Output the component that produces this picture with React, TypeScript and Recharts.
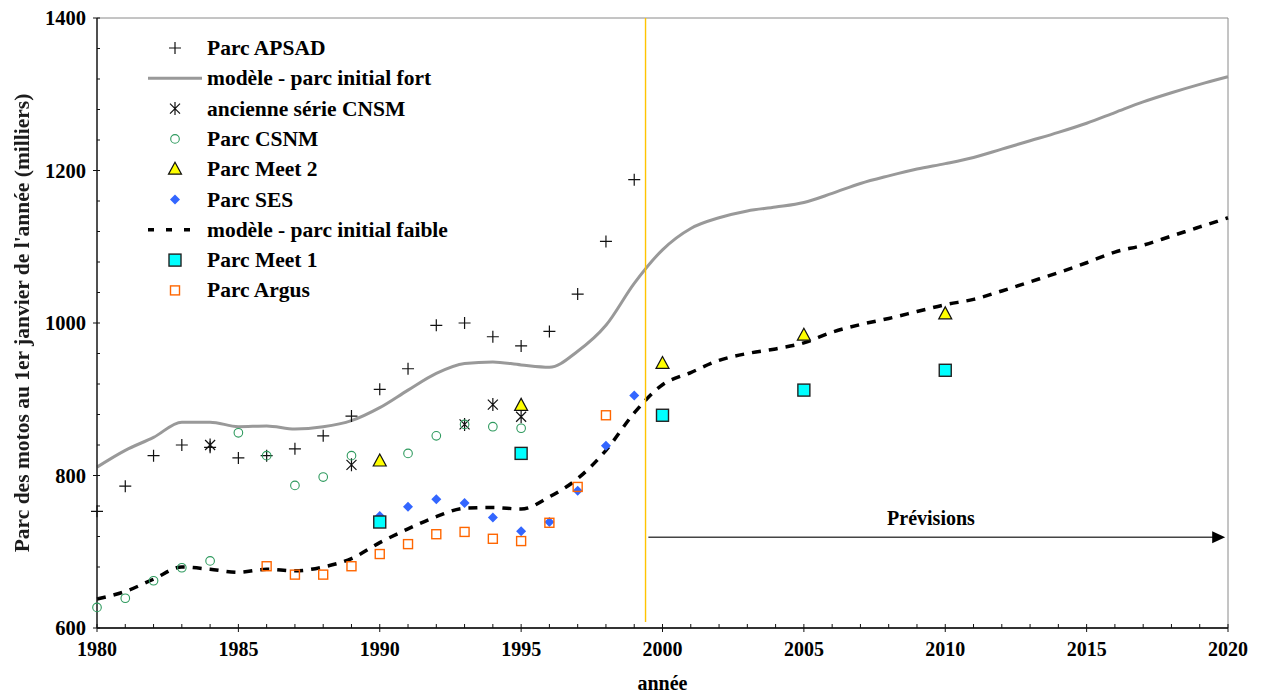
import React from 'react';
import {
  ComposedChart,
  Line,
  Scatter,
  XAxis,
  YAxis,
  ReferenceLine,
  ReferenceArea,
  Legend,
} from 'recharts';

const FONT = '"Liberation Serif", "Times New Roman", serif';

// ---- data (milliers de motos au 1er janvier) ----
const apsadYears = [1980, 1981, 1982, 1983, 1984, 1985, 1986, 1987, 1988, 1989, 1990, 1991, 1992, 1993, 1994, 1995, 1996, 1997, 1998, 1999];
const apsadValues = [753, 786, 826, 840, 837, 823, 826, 835, 852, 878, 913, 940, 997, 1000, 982, 970, 989, 1038, 1107, 1188];

const modelYears = [
  1980, 1981, 1982, 1983, 1984, 1985, 1986, 1987, 1988, 1989,
  1990, 1991, 1992, 1993, 1994, 1995, 1996, 1997, 1998, 1999,
  2000, 2001, 2002, 2003, 2004, 2005, 2006, 2007, 2008, 2009,
  2010, 2011, 2012, 2013, 2014, 2015, 2016, 2017, 2018, 2019, 2020,
];
const strongModelValues = [
  811, 833, 850, 870, 870, 864, 865, 861, 864, 872,
  889, 912, 934, 947, 949, 945, 942, 963, 997, 1052,
  1096, 1124, 1138, 1147, 1152, 1158, 1170, 1183, 1193, 1202,
  1209, 1217, 1228, 1239, 1250, 1262, 1276, 1290, 1302, 1313, 1323,
];
const weakModelValues = [
  638, 648, 664, 680, 677, 673, 677, 675, 680, 691,
  712, 730, 746, 757, 758, 756, 772, 796, 833, 882,
  919, 935, 951, 960, 966, 974, 988, 998, 1006, 1015,
  1024, 1031, 1042, 1054, 1066, 1079, 1093, 1102, 1114, 1126, 1138,
];

const oldCnsmYears = [1984, 1989, 1993, 1994, 1995];
const oldCnsmValues = [840, 814, 867, 893, 877];

const csnmYears = [1980, 1981, 1982, 1983, 1984, 1985, 1986, 1987, 1988, 1989, 1991, 1992, 1993, 1994, 1995];
const csnmValues = [627, 639, 662, 679, 688, 856, 826, 787, 798, 826, 829, 852, 867, 864, 862];

const meet2Years = [1990, 1995, 2000, 2005, 2010];
const meet2Values = [819, 892, 947, 984, 1012];

const sesYears = [1990, 1991, 1992, 1993, 1994, 1995, 1996, 1997, 1998, 1999];
const sesValues = [747, 759, 769, 764, 745, 727, 739, 780, 839, 905];

const meet1Years = [1990, 1995, 2000, 2005, 2010];
const meet1Values = [739, 829, 879, 912, 938];

const argusYears = [1986, 1987, 1988, 1989, 1990, 1991, 1992, 1993, 1994, 1995, 1996, 1997, 1998];
const argusValues = [681, 670, 670, 681, 697, 710, 723, 726, 717, 714, 738, 785, 879];

const xTicks = [
  1980, 1981, 1982, 1983, 1984, 1985, 1986, 1987, 1988, 1989,
  1990, 1991, 1992, 1993, 1994, 1995, 1996, 1997, 1998, 1999,
  2000, 2001, 2002, 2003, 2004, 2005, 2006, 2007, 2008, 2009,
  2010, 2011, 2012, 2013, 2014, 2015, 2016, 2017, 2018, 2019, 2020,
];
const yTicks = [600, 640, 680, 720, 760, 800, 840, 880, 920, 960, 1000, 1040, 1080, 1120, 1160, 1200, 1240, 1280, 1320, 1360, 1400];

const forecastStart = 1999.4;
const arrowFrom = 1999.5;
const arrowTo = 2019.9;
const arrowLevel = 719;

const pairs = (years: number[], values: number[]) => years.map((year, i) => ({ year, value: values[i] }));

const apsadData = pairs(apsadYears, apsadValues);
const strongData = pairs(modelYears, strongModelValues);
const weakData = pairs(modelYears, weakModelValues);
const oldCnsmData = pairs(oldCnsmYears, oldCnsmValues);
const csnmData = pairs(csnmYears, csnmValues);
const meet2Data = pairs(meet2Years, meet2Values);
const sesData = pairs(sesYears, sesValues);
const meet1Data = pairs(meet1Years, meet1Values);
const argusData = pairs(argusYears, argusValues);

type Kind = 'plus' | 'asterisk' | 'circle' | 'triangle' | 'diamond' | 'cyanSquare' | 'hollowSquare' | 'greyLine' | 'dashLine';

const GREY = '#999999';

function marker(kind: Kind, cx: number, cy: number) {
  switch (kind) {
    case 'plus':
      return <path d={`M${cx - 6},${cy}H${cx + 6}M${cx},${cy - 6}V${cy + 6}`} stroke="#111" strokeWidth={1.2} fill="none" />;
    case 'asterisk':
      return (
        <path
          d={`M${cx - 5},${cy - 5}L${cx + 5},${cy + 5}M${cx - 5},${cy + 5}L${cx + 5},${cy - 5}M${cx},${cy - 6.5}V${cy + 6.5}`}
          stroke="#111"
          strokeWidth={1.2}
          fill="none"
        />
      );
    case 'circle':
      return <circle cx={cx} cy={cy} r={4.3} stroke="#2E9A5E" strokeWidth={1.1} fill="none" />;
    case 'triangle':
      return (
        <polygon
          points={`${cx},${cy - 7} ${cx + 6.5},${cy + 5} ${cx - 6.5},${cy + 5}`}
          fill="#FFFF00"
          stroke="#111"
          strokeWidth={1.2}
          strokeLinejoin="miter"
        />
      );
    case 'diamond':
      return <polygon points={`${cx},${cy - 5} ${cx + 5},${cy} ${cx},${cy + 5} ${cx - 5},${cy}`} fill="#3366FF" />;
    case 'cyanSquare':
      return <rect x={cx - 6} y={cy - 6} width={12} height={12} fill="#00FFFF" stroke="#222" strokeWidth={1.4} />;
    case 'hollowSquare':
      return <rect x={cx - 4.5} y={cy - 4.5} width={9} height={9} fill="none" stroke="#FF6600" strokeWidth={1.4} />;
    case 'greyLine':
      return <line x1={cx - 27} x2={cx + 27} y1={cy} y2={cy} stroke={GREY} strokeWidth={3} />;
    case 'dashLine':
      return <line x1={cx - 27} x2={cx + 22} y1={cy} y2={cy} stroke="#000" strokeWidth={3.5} strokeDasharray="6 12" />;
    default:
      return null;
  }
}

const legendItems: { label: string; kind: Kind }[] = [
  { label: 'Parc APSAD', kind: 'plus' },
  { label: 'modèle - parc initial fort', kind: 'greyLine' },
  { label: 'ancienne série CNSM', kind: 'asterisk' },
  { label: 'Parc CSNM', kind: 'circle' },
  { label: 'Parc Meet 2', kind: 'triangle' },
  { label: 'Parc SES', kind: 'diamond' },
  { label: 'modèle - parc initial faible', kind: 'dashLine' },
  { label: 'Parc Meet 1', kind: 'cyanSquare' },
  { label: 'Parc Argus', kind: 'hollowSquare' },
];

const LegendBox = () => (
  <svg width={340} height={280} style={{ display: 'block' }}>
    {legendItems.map((item, i) => {
      const cy = 18 + i * 30.3;
      return (
        <g key={item.label}>
          {marker(item.kind, 35, cy)}
          <text x={67} y={cy + 7} fontFamily={FONT} fontWeight="bold" fontSize={21.5} fill="#000">
            {item.label}
          </text>
        </g>
      );
    })}
  </svg>
);

const XTick = (props: any) => {
  const { x, y, payload } = props;
  const v = payload.value as number;
  const major = v % 5 === 0;
  return (
    <g>
      <line x1={x} x2={x} y1={y - 4} y2={major ? y + 4 : y} stroke="#111" strokeWidth={1} />
      {major && (
        <text x={x} y={y + 28} textAnchor="middle" fontFamily={FONT} fontWeight="bold" fontSize={20} fill="#000">
          {v}
        </text>
      )}
    </g>
  );
};

const YTick = (props: any) => {
  const { x, y, payload } = props;
  const v = payload.value as number;
  const major = v % 200 === 0;
  return (
    <g>
      <line x1={major ? x - 4 : x} x2={x + 3} y1={y} y2={y} stroke="#111" strokeWidth={1} />
      {major && (
        <text x={x - 11} y={y + 7} textAnchor="end" fontFamily={FONT} fontWeight="bold" fontSize={20.5} fill="#000">
          {v}
        </text>
      )}
    </g>
  );
};

const YTitle = (p: any) => {
  const vb = p.viewBox || { x: 0, y: 18, width: 97, height: 610 };
  const cx = vb.x + 22;
  const cy = vb.y + vb.height / 2;
  return (
    <g>
      <defs>
        <filter id="soft" x="-10%" y="-10%" width="120%" height="120%">
          <feGaussianBlur stdDeviation={0.6} />
        </filter>
      </defs>
      <text
        x={cx}
        y={cy}
        transform={`rotate(-90 ${cx} ${cy})`}
        textAnchor="middle"
        dominantBaseline="central"
        fontFamily={FONT}
        fontWeight="bold"
        fontSize={21.5}
        fill="#1a1a1a"
        filter="url(#soft)"
      >
        Parc des motos au 1er janvier de l'année (milliers)
      </text>
    </g>
  );
};

const XTitle = (p: any) => {
  const vb = p.viewBox || { x: 97, y: 628, width: 1131, height: 67 };
  return (
    <text x={vb.x + vb.width / 2} y={vb.y + 62} textAnchor="middle" fontFamily={FONT} fontWeight="bold" fontSize={20} fill="#000">
      année
    </text>
  );
};

const ForecastArrow = (p: any) => {
  const { x1, y1, x2 } = p;
  const tip = x2;
  return (
    <g>
      <line x1={x1} x2={tip - 12} y1={y1} y2={y1} stroke="#444" strokeWidth={1.6} />
      <polygon points={`${tip},${y1} ${tip - 13},${y1 - 6} ${tip - 13},${y1 + 6}`} fill="#000" />
      <text
        x={x1 + (tip - x1) * 0.49}
        y={y1 - 12}
        textAnchor="middle"
        fontFamily={FONT}
        fontWeight="bold"
        fontSize={20}
        fill="#000"
      >
        Prévisions
      </text>
    </g>
  );
};

export default function App() {
  return (
    <div style={{ position: 'absolute', left: 0, top: 0, background: '#fff' }}>
      <ComposedChart width={1266} height={695} margin={{ top: 18, right: 38, bottom: 0, left: 0 }}>
        <ReferenceArea x1={1980} x2={2020} y1={600} y2={1400} fill="none" stroke="#8a8a8a" strokeWidth={1} />
        <XAxis
          type="number"
          dataKey="year"
          domain={[1980, 2020]}
          ticks={xTicks}
          interval={0}
          tickSize={0}
          tickMargin={0}
          tickLine={false}
          tick={<XTick />}
          axisLine={{ stroke: '#333', strokeWidth: 2 }}
          height={67}
          label={XTitle}
        />
        <YAxis
          type="number"
          dataKey="value"
          domain={[600, 1400]}
          ticks={yTicks}
          interval={0}
          tickSize={0}
          tickMargin={0}
          tickLine={false}
          tick={<YTick />}
          axisLine={{ stroke: '#111', strokeWidth: 1.3 }}
          width={97}
          label={YTitle}
        />
        <Scatter data={apsadData} isAnimationActive={false} shape={(s: any) => marker('plus', s.cx, s.cy)} />
        <Line
          data={strongData}
          dataKey="value"
          type="monotone"
          stroke={GREY}
          strokeWidth={3}
          dot={false}
          activeDot={false}
          isAnimationActive={false}
        />
        <Scatter data={oldCnsmData} isAnimationActive={false} shape={(s: any) => marker('asterisk', s.cx, s.cy)} />
        <Scatter data={csnmData} isAnimationActive={false} shape={(s: any) => marker('circle', s.cx, s.cy)} />
        <Scatter data={meet2Data} isAnimationActive={false} shape={(s: any) => marker('triangle', s.cx, s.cy)} />
        <Scatter data={sesData} isAnimationActive={false} shape={(s: any) => marker('diamond', s.cx, s.cy)} />
        <Line
          data={weakData}
          dataKey="value"
          type="monotone"
          stroke="#000"
          strokeWidth={3.5}
          strokeDasharray="9 8"
          dot={false}
          activeDot={false}
          isAnimationActive={false}
        />
        <Scatter data={meet1Data} isAnimationActive={false} shape={(s: any) => marker('cyanSquare', s.cx, s.cy)} />
        <Scatter data={argusData} isAnimationActive={false} shape={(s: any) => marker('hollowSquare', s.cx, s.cy)} />
        <ReferenceLine
          segment={[
            { x: forecastStart, y: 608 },
            { x: forecastStart, y: 1400 },
          ]}
          stroke="#FFC400"
          strokeWidth={1.4}
        />
        <ReferenceLine
          segment={[
            { x: arrowFrom, y: arrowLevel },
            { x: arrowTo, y: arrowLevel },
          ]}
          shape={ForecastArrow}
        />
        <Legend
          layout="vertical"
          align="center"
          verticalAlign="middle"
          content={() => <LegendBox />}
          wrapperStyle={{ left: 140, top: 30, width: 340, height: 280 }}
        />
      </ComposedChart>
    </div>
  );
}
